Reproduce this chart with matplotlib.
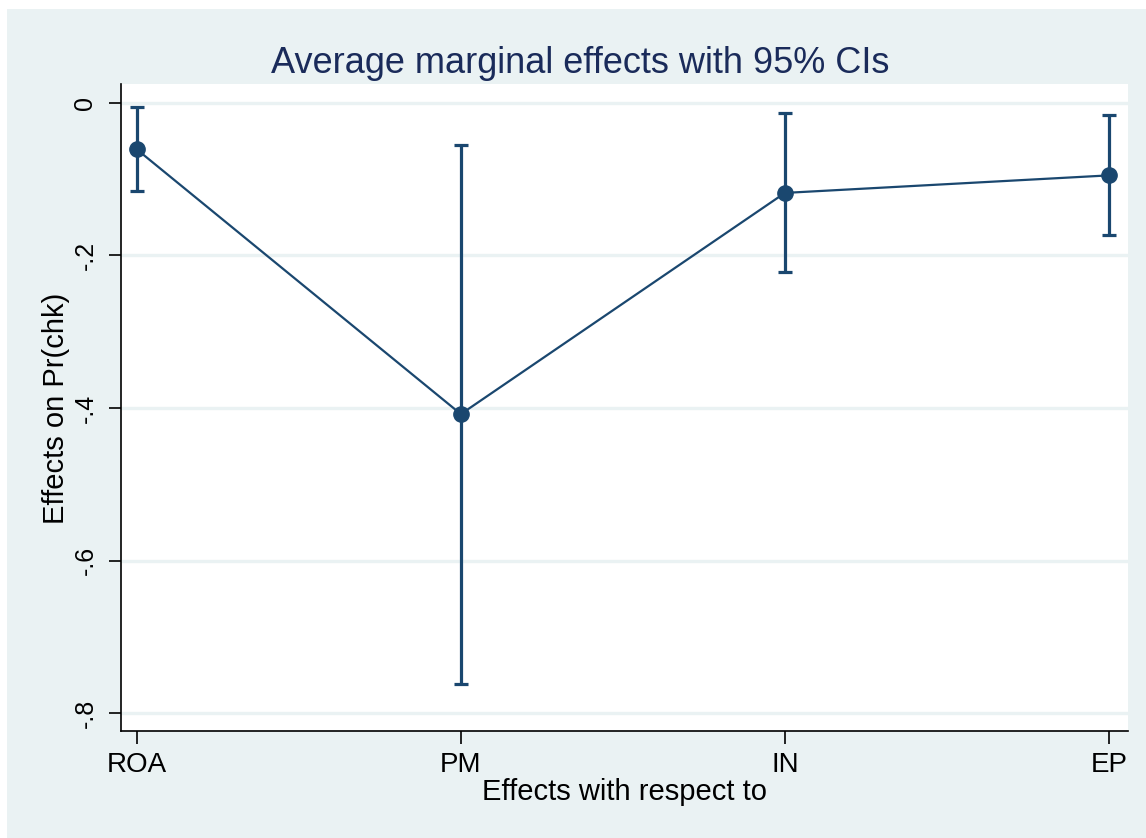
import matplotlib
matplotlib.use("Agg")
import matplotlib.pyplot as plt
from matplotlib.patches import Rectangle

categories = ["ROA", "PM", "IN", "EP"]
effects = [-0.061, -0.408, -0.118, -0.095]
ci_upper = [-0.005, -0.055, -0.013, -0.016]
ci_lower = [-0.116, -0.762, -0.222, -0.173]
yticks = [0, -0.2, -0.4, -0.6, -0.8]
ytick_labels = ["0", "-.2", "-.4", "-.6", "-.8"]

W, H = 1146, 838
plt.rcParams["font.family"] = ["Liberation Sans", "DejaVu Sans"]
fig = plt.figure(figsize=(W / 100, H / 100), dpi=100, facecolor="white")

bg = "#EAF2F3"
navy = "#1a476f"
fig.patches.append(Rectangle((7 / W, 0), 1 - 7 / W, 1 - 9 / H, transform=fig.transFigure,
                             facecolor=bg, edgecolor="none", zorder=-10))

left, right, top, bottom = 121, 1128, 84, 731
ax = fig.add_axes([left / W, 1 - bottom / H, (right - left) / W, (bottom - top) / H])
ax.set_facecolor("white")

x = list(range(1, len(categories) + 1))
yerr = [[e - lo for e, lo in zip(effects, ci_lower)], [hi - e for e, hi in zip(effects, ci_upper)]]
ax.errorbar(x, effects, yerr=yerr, fmt="o-", color=navy, ecolor=navy, elinewidth=2.3,
            capsize=5.2, capthick=2.3, lw=1.6, markersize=11, zorder=3)

ax.set_xlim(0.951, 4.059)
ax.set_ylim(-0.8235, 0.0248)
ax.set_xticks(x)
ax.set_xticklabels(categories, fontsize=20)
ax.set_yticks(yticks)
ax.set_yticklabels(ytick_labels, fontsize=18, rotation=90, va="center")
ax.grid(axis="y", color=bg, lw=2.4)
ax.set_axisbelow(True)
for s in ["top", "right"]:
    ax.spines[s].set_visible(False)
for s in ["left", "bottom"]:
    ax.spines[s].set_linewidth(1.2)
ax.tick_params(axis="both", length=9, width=1.2, colors="black")
ax.tick_params(axis="x", pad=6)
ax.tick_params(axis="y", pad=8)

ax.set_xlabel("Effects with respect to", fontsize=21, va="center")
ax.xaxis.set_label_coords((625 - left) / (right - left), (bottom - 792) / (bottom - top))
ax.set_ylabel("Effects on Pr(chk)", fontsize=21, va="center")
ax.yaxis.set_label_coords((56 - left) / (right - left), (bottom - 408) / (bottom - top))
fig.text(580 / W, 1 - 63 / H, "Average marginal effects with 95% CIs", fontsize=26,
         color="#1a2b5a", ha="center", va="center")

fig.savefig("out.png", dpi=100, facecolor=fig.get_facecolor())
